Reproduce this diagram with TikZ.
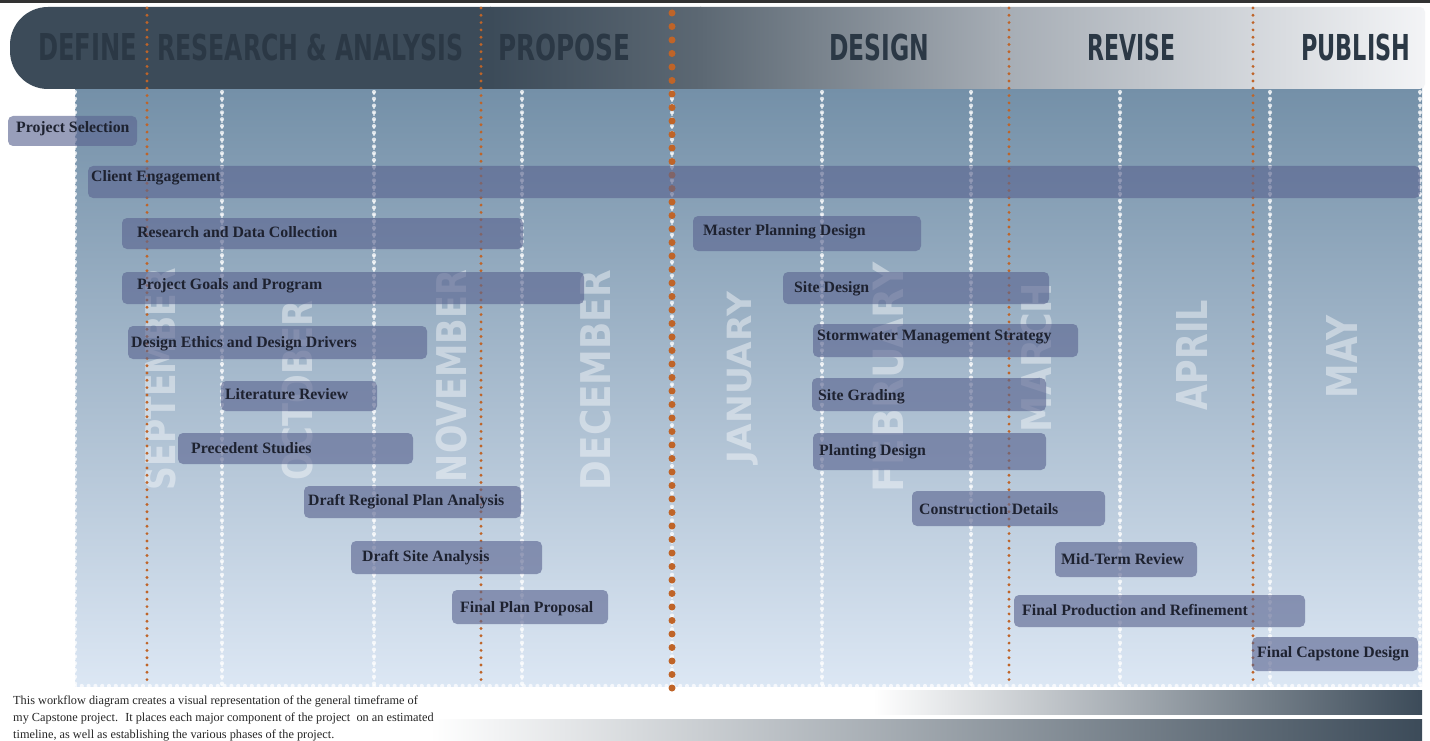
\documentclass[tikz,border=0pt]{standalone}
\usepackage{fontspec}
\usepackage{graphicx}
\setmainfont{Liberation Serif}
\newfontfamily\dispfont{DejaVu Sans}
\definecolor{hdark}{HTML}{3C4B59}
\definecolor{hmidA}{HTML}{5C6873}
\definecolor{hmid}{HTML}{A5ACB4}
\definecolor{hlight}{HTML}{F4F5F7}
\definecolor{htext}{HTML}{2B3845}
\definecolor{ptop}{HTML}{7490A8}
\definecolor{pbot}{HTML}{DCE7F4}
\definecolor{barcol}{HTML}{5A6490}
\definecolor{orangedot}{HTML}{BF6428}
\definecolor{bartxt}{HTML}{1E2230}
\tikzset{
  barfill/.style={fill=barcol, fill opacity=0.62, rounded corners=5pt},
  bartext/.style={anchor=base west, inner sep=0pt, text=bartxt, font=\fontsize{15.8}{18}\selectfont\bfseries},
  odots/.style={draw=orangedot, line width=3.2pt, line cap=round, dash pattern=on 0pt off 7.3pt},
  bigdots/.style={draw=orangedot, line width=7pt, line cap=round, dash pattern=on 0pt off 13.5pt},
  wdots/.style={draw=white, draw opacity=0.75, line width=4.2pt, line cap=round, dash pattern=on 0pt off 6.8pt},
  wline/.style={draw=white, draw opacity=0.55, line width=1.1pt, dash pattern=on 3.4pt off 3.4pt},
  monthlbl/.style={rotate=90, inner sep=0pt, text=white, text opacity=0.42, font=\dispfont\bfseries},
  phase/.style={anchor=south west, inner sep=0pt, text=htext, font=\dispfont\bfseries},
}
\newcommand\taskbar[8]{%
  \path[barfill] (#2,#3) rectangle (#4,#5);
  \node[bartext] (#1) at (#6,#7) {#8};
}
\newcommand\monthtext[5]{%
  \node[monthlbl] (#1) at (#2,#3) {\resizebox*{#4pt}{31pt}{#5}};
}
\newcommand\phasetext[6]{%
  \node[phase] (#1) at (#2,#3) {\resizebox*{#4pt}{#5pt}{#6}};
}
\begin{document}
\begin{tikzpicture}[x=1pt,y=-1pt]
\useasboundingbox (0,0) rectangle (1430,741);
\fill[white] (0,0) rectangle (1430,741);
% top rule
\fill[black!80] (0,0) rectangle (1430,3);
% panel
\shade[top color=ptop, bottom color=pbot] (75,89) rectangle (1422,686);
% month labels
\monthtext{sep}{160.5}{379}{222}{SEPTEMBER}
\monthtext{oct}{297.5}{390}{180}{OCTOBER}
\monthtext{nov}{451.5}{376}{212}{NOVEMBER}
\monthtext{dec}{596}{380}{220}{DECEMBER}
\monthtext{jan}{742.5}{377.5}{171}{JANUARY}
\monthtext{feb}{889}{377}{230}{FEBRUARY}
\monthtext{mar}{1037}{357.5}{149}{MARCH}
\monthtext{apr}{1192}{355}{110}{APRIL}
\monthtext{may}{1342}{356.5}{83}{MAY}
% white dotted month lines
\foreach \x in {75,222,374,522,672,822,971,1120,1270,1420}{
  \draw[wline] (\x,92) -- (\x,686);
  \draw[wdots] (\x,92) -- (\x,686);
}
\draw[wdots] (75,686) -- (1422,686);
% header
\begin{scope}
  \clip[rounded corners=38pt] (10,7) rectangle (1500,89);
  \clip[rounded corners=5pt] (0,7) rectangle (1425,89);
  \fill[hdark] (0,0) rectangle (491,100);
  \shade[left color=hdark, right color=hmidA] (490,0) rectangle (701,100);
  \shade[left color=hmidA, right color=hmid] (700,0) rectangle (1001,100);
  \shade[left color=hmid, right color=hlight] (1000,0) rectangle (1430,100);
\end{scope}
\phasetext{define}{38}{61}{99}{27}{DEFINE}
\phasetext{research}{157}{61}{306}{27}{RESEARCH \& ANALYSIS}
\phasetext{propose}{498}{61}{132}{27}{PROPOSE}
\phasetext{design}{829}{61}{100}{27}{DESIGN}
\phasetext{revise}{1087}{61}{88}{27}{REVISE}
\phasetext{publish}{1301}{61}{109}{27}{PUBLISH}
% orange phase lines
\foreach \x in {147,481,1009,1253}{
  \draw[odots] (\x,8) -- (\x,686);
}
\draw[bigdots] (672,13) -- (672,695);
% task bars
\taskbar{t1}{8}{116}{137}{146}{16}{133}{Project Selection}
\taskbar{t2}{88}{166}{1420}{198}{91}{182}{Client Engagement}
\taskbar{t3}{122}{218}{523}{249}{137}{237}{Research and Data Collection}
\taskbar{t4}{693}{216}{921}{251}{703}{235}{Master Planning Design}
\taskbar{t5}{122}{272}{584}{304}{137}{289}{Project Goals and Program}
\taskbar{t6}{783}{272}{1049}{304}{794}{292}{Site Design}
\taskbar{t7}{128}{326}{427}{359}{131}{347}{Design Ethics and Design Drivers}
\taskbar{t8}{813}{324}{1078}{357}{817}{340}{Stormwater Management Strategy}
\taskbar{t9}{221}{381}{377}{411}{225}{399}{Literature Review}
\taskbar{t10}{812}{378}{1046}{411}{818}{400}{Site Grading}
\taskbar{t11}{178}{433}{413}{464}{191}{453}{Precedent Studies}
\taskbar{t12}{813}{433}{1046}{470}{819}{455}{Planting Design}
\taskbar{t13}{304}{486}{521}{518}{308}{505}{Draft Regional Plan Analysis}
\taskbar{t14}{912}{491}{1105}{526}{919}{514}{Construction Details}
\taskbar{t15}{351}{541}{542}{574}{362}{561}{Draft Site Analysis}
\taskbar{t16}{1055}{542}{1197}{577}{1061}{564}{Mid-Term Review}
\taskbar{t17}{452}{590}{608}{624}{460}{612}{Final Plan Proposal}
\taskbar{t18}{1014}{595}{1305}{627}{1022}{615}{Final Production and Refinement}
\taskbar{t19}{1252}{637}{1418}{671}{1257}{657}{Final Capstone Design}
% bottom gradient bars
\shade[left color=white, right color=hdark] (873,690) rectangle (1422,714);
\shade[left color=white, right color=hdark] (430,719) rectangle (1422,741);
% description
\node[anchor=north west, align=left, inner sep=0pt, text=black!85,
      font=\fontsize{12.3}{16.8}\selectfont] (desc) at (13,696)
  {This workflow diagram creates a visual representation of the general timeframe of\\
   my Capstone project.~ It places each major component of the project~ on an estimated\\
   timeline, as well as establishing the various phases of the project.};
\end{tikzpicture}
\end{document}
